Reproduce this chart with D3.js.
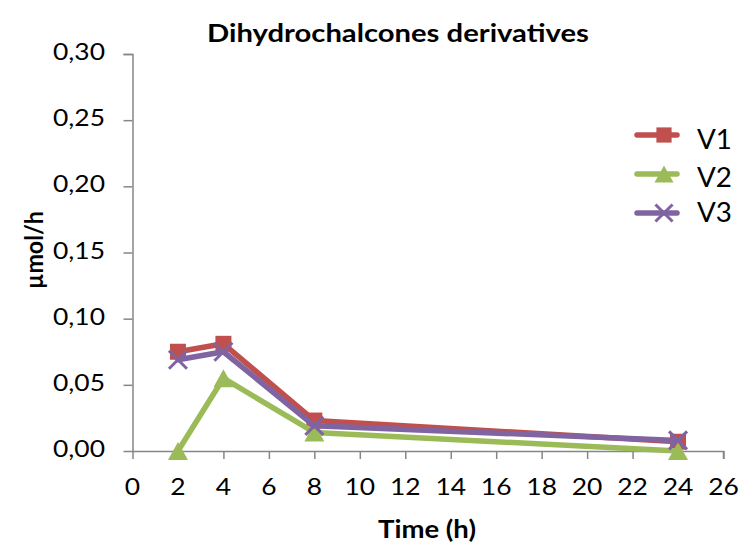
<!DOCTYPE html>
<html><head><meta charset="utf-8">
<script src="https://cdn.jsdelivr.net/npm/d3@7"></script>
<style>body{margin:0;background:#fff}svg{display:block}text{font-family:Lato,"Open Sans",sans-serif;fill:#000}</style>
</head><body><svg id="c" width="742" height="547"></svg>
<script>
const times = [2, 4, 8, 24];
const seriesNames = ["V1", "V2", "V3"];
const v1 = [0.075, 0.081, 0.023, 0.007];
const v2 = [0.0, 0.055, 0.014, 0.0];
const v3 = [0.069, 0.075, 0.019, 0.008];
const xTicks = [0,2,4,6,8,10,12,14,16,18,20,22,24,26];
const yTicks = [0,0.05,0.10,0.15,0.20,0.25,0.30];
const colors = ["#C0504D", "#9BBB59", "#8064A2"];
const markers = ["square", "triangle", "x"];
const values = [v1, v2, v3];

const svg = d3.select("#c");
const x = d3.scaleLinear().domain([0, 26]).range([132.5, 723.5]);
const y = d3.scaleLinear().domain([0, 0.30]).range([451, 54]);
const axisColor = "#868686";
const fmtY = d => d3.format(".2f")(d).replace(".", ",");

function measure(txt, size, weight) {
  const t = svg.append("text").style("font-size", size + "px").style("font-weight", weight || "normal").text(txt);
  const w = t.node().getComputedTextLength();
  t.remove();
  return w;
}
const tickSize = 24;
const sx = 52 / measure("0,30", tickSize);

function placeText(g, txt, px, py, anchor, size, weight, scaleX) {
  return g.append("text").attr("transform", `translate(${px},${py}) scale(${scaleX},1)`)
    .attr("text-anchor", anchor).style("font-size", size + "px").style("font-weight", weight || "normal").text(txt);
}

const ya = svg.append("g").attr("transform", "translate(132.5,0)")
  .call(d3.axisLeft(y).tickValues(yTicks).tickSize(9).tickFormat(""));
const xa = svg.append("g").attr("transform", "translate(0,451)")
  .call(d3.axisBottom(x).tickValues(xTicks).tickSize(8).tickFormat(""));
[ya, xa].forEach(a => {
  a.select(".domain").attr("stroke", axisColor).attr("stroke-width", 1.5);
  a.selectAll(".tick line").attr("stroke", axisColor).attr("stroke-width", 1.5);
});
ya.select(".domain").attr("d", "M-9,54.5H0.5V451");
xa.select(".domain").attr("d", "M132.5,0.5H723.5V8");

const labels = svg.append("g");
yTicks.forEach(v => placeText(labels, fmtY(v), 105, y(v) + 6, "end", tickSize, "normal", sx));
xTicks.forEach(v => placeText(labels, String(v), x(v), 495, "middle", tickSize, "normal", sx));

const line = d3.line().x(d => x(d[0])).y(d => y(d[1]));

function drawMarker(g, type, cx, cy, color, k) {
  if (type === "square") {
    const s = 8 * k;
    g.append("rect").attr("x", cx - s).attr("y", cy - s).attr("width", 2 * s).attr("height", 2 * s).attr("fill", color);
  } else if (type === "triangle") {
    const w = 10 * k, h = 9 * k;
    g.append("path").attr("d", `M${cx},${cy - h}L${cx + w},${cy + h}L${cx - w},${cy + h}Z`).attr("fill", color);
  } else {
    const s = 9 * k;
    g.append("path").attr("d", `M${cx - s},${cy - s}L${cx + s},${cy + s}M${cx - s},${cy + s}L${cx + s},${cy - s}`)
      .attr("stroke", color).attr("stroke-width", 3).attr("fill", "none");
  }
}

values.forEach((vals, i) => {
  const g = svg.append("g");
  const pts = times.map((t, j) => [t, vals[j]]);
  g.append("path").attr("d", line(pts)).attr("fill", "none").attr("stroke", colors[i])
    .attr("stroke-width", 5.5).attr("stroke-linejoin", "round").attr("stroke-linecap", "round");
  pts.forEach(p => drawMarker(g, markers[i], x(p[0]), y(p[1]), colors[i], 1));
});

const legLineY = [135, 174, 213];
const legTextY = [149, 187, 222];
seriesNames.forEach((n, i) => {
  const g = svg.append("g");
  g.append("line").attr("x1", 637).attr("x2", 677).attr("y1", legLineY[i]).attr("y2", legLineY[i])
    .attr("stroke", colors[i]).attr("stroke-width", 5.5).attr("stroke-linecap", "round");
  drawMarker(g, markers[i], 664, legLineY[i], colors[i], 0.95);
  placeText(g, n, 697, legTextY[i], "start", 26, "normal", sx * 0.97);
});

const tW = measure("Dihydrochalcones derivatives", 25, "bold");
placeText(svg, "Dihydrochalcones derivatives", 398, 42, "middle", 25, "bold", 382 / tW);
const xW = measure("Time (h)", 24, "bold");
placeText(svg, "Time (h)", 427, 538, "middle", 24, "bold", 98 / xW);
const yW = measure("µmol/h", 25, "bold");
svg.append("text").attr("transform", `translate(43,250) rotate(-90) scale(${78 / yW},1)`).attr("text-anchor", "middle")
  .style("font-size", "25px").style("font-weight", "bold").text("µmol/h");
</script></body></html>
